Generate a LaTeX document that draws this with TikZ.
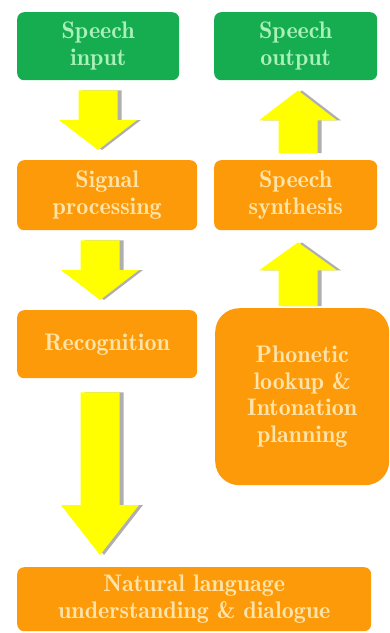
\documentclass[tikz,border=0pt]{standalone}
\usepackage{fontspec}
\newfontfamily\labelfont{Latin Modern Roman Demi}
\usetikzlibrary{calc}
\definecolor{boxgreen}{RGB}{22,172,80}
\definecolor{boxorange}{RGB}{252,154,10}
\definecolor{txtgreen}{RGB}{170,240,185}
\definecolor{txtorange}{RGB}{255,228,170}
\definecolor{arrowyellow}{RGB}{255,255,0}
\definecolor{shadowgray}{RGB}{175,175,175}

% block arrow pointing down: x, from node, to node, head length, top gap, tip gap
\newcommand\blkdown[6]{%
  \foreach \sh/\st in {{(4pt,-4pt)}/arrowshade,{(0pt,0pt)}/arrowbody}{
    \path[\st, shift=\sh] let \p1=(#2.south), \p2=(#3.north) in
      ({#1pt-19.5pt},{\y1-#5pt}) -- ({#1pt+19.5pt},{\y1-#5pt})
      -- ({#1pt+19.5pt},{\y2+#6pt+#4pt}) -- ({#1pt+39pt},{\y2+#6pt+#4pt})
      -- ({#1pt},{\y2+#6pt})
      -- ({#1pt-39pt},{\y2+#6pt+#4pt}) -- ({#1pt-19.5pt},{\y2+#6pt+#4pt}) -- cycle;
  }}
% block arrow pointing up: x, from node (below), to node (above), head length, bottom gap, tip gap
\newcommand\blkup[6]{%
  \foreach \sh/\st in {{(4pt,-4pt)}/arrowshade,{(0pt,0pt)}/arrowbody}{
    \path[\st, shift=\sh] let \p1=(#2.north), \p2=(#3.south) in
      ({#1pt-19.5pt},{\y1+#5pt}) -- ({#1pt+19.5pt},{\y1+#5pt})
      -- ({#1pt+19.5pt},{\y2-#6pt-#4pt}) -- ({#1pt+39pt},{\y2-#6pt-#4pt})
      -- ({#1pt},{\y2-#6pt})
      -- ({#1pt-39pt},{\y2-#6pt-#4pt}) -- ({#1pt-19.5pt},{\y2-#6pt-#4pt}) -- cycle;
  }}

\tikzset{
  box/.style={anchor=north west, inner sep=0pt, align=center,
    font=\labelfont\fontsize{24}{26.5}\selectfont},
  greenbox/.style={box, fill=boxgreen, text=txtgreen, rounded corners=7pt},
  orangebox/.style={box, fill=boxorange, text=txtorange, rounded corners=7pt},
  arrowbody/.style={fill=arrowyellow},
  arrowshade/.style={fill=shadowgray},
}

\begin{document}
\begin{tikzpicture}[x=1pt,y=-1pt]
\useasboundingbox (0,0) rectangle (390,633);

\node[greenbox, minimum width=162pt, minimum height=68pt] (in)  at (17,12)  {Speech\\input};
\node[greenbox, minimum width=163pt, minimum height=68pt] (out) at (214,12) {Speech\\output};
\node[orangebox, minimum width=180pt, minimum height=70pt] (sig) at (17,160) {Signal\\processing};
\node[orangebox, minimum width=163pt, minimum height=70pt] (syn) at (214,160) {Speech\\synthesis};
\node[orangebox, minimum width=180pt, minimum height=68pt] (rec) at (17,310) {Recognition};
\node[orangebox, rounded corners=24pt, minimum width=174pt, minimum height=177pt] (pho) at (215,308)
  {Phonetic\\lookup \&\\Intonation\\planning};
\node[orangebox, minimum width=354pt, minimum height=64pt] (nlu) at (17,567)
  {Natural language\\understanding \& dialogue};

\blkdown{98}{in}{sig}{30}{10}{10}
\blkdown{100}{sig}{rec}{30}{10}{10}
\blkdown{100}{rec}{nlu}{50}{14}{12}
\blkup{298}{syn}{out}{30}{7}{10}
\blkup{298}{pho}{syn}{28}{2}{12}
\end{tikzpicture}
\end{document}
